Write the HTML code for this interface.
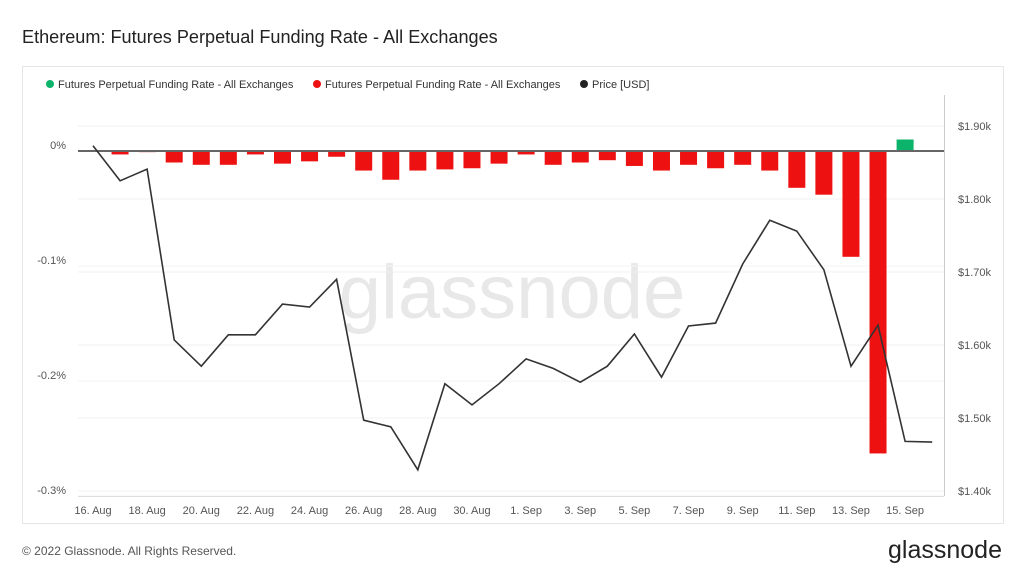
<!DOCTYPE html>
<html><head><meta charset="utf-8"><style>
body{margin:0;background:#fff;font-family:"Liberation Sans",sans-serif;}
</style></head><body>
<svg width="1024" height="576" xmlns="http://www.w3.org/2000/svg">
<text x="22" y="43" font-size="18.1" fill="#222">Ethereum: Futures Perpetual Funding Rate - All Exchanges</text>
<rect x="22.5" y="66.5" width="981" height="457" fill="none" stroke="#e6e6e6"/>
<g font-size="11" fill="#333">
<circle cx="50" cy="84" r="4" fill="#0bb36b"/>
<text x="58" y="88">Futures Perpetual Funding Rate - All Exchanges</text>
<circle cx="317" cy="84" r="4" fill="#ee1111"/>
<text x="325" y="88">Futures Perpetual Funding Rate - All Exchanges</text>
<circle cx="584" cy="84" r="4" fill="#222"/>
<text x="592" y="88">Price [USD]</text>
</g>
<text x="512" y="318" font-size="76" fill="#e8e8e8" text-anchor="middle">glassnode</text>
<g id="grid"></g>
<g id="bars"></g>
<line x1="78" x2="944" y1="151" y2="151" stroke="#666" stroke-width="2"/>
<path id="price" fill="none" stroke="#333" stroke-width="1.6"/>
<line x1="944.5" x2="944.5" y1="95" y2="496" stroke="#ccc"/>
<line x1="78" x2="944" y1="496.5" y2="496.5" stroke="#ddd"/>
<g id="axes" font-size="11" fill="#555"></g>
<text x="22" y="555" font-size="12" fill="#555">© 2022 Glassnode. All Rights Reserved.</text>
<text x="1002" y="558" font-size="25" fill="#222" text-anchor="end">glassnode</text>
</svg>
<script>
const dates=["16. Aug","18. Aug","20. Aug","22. Aug","24. Aug","26. Aug","28. Aug","30. Aug","1. Sep","3. Sep","5. Sep","7. Sep","9. Sep","11. Sep","13. Sep","15. Sep"];
const fundingRates=[0,-0.003,-0.001,-0.010,-0.012,-0.012,-0.003,-0.011,-0.009,-0.005,-0.017,-0.025,-0.017,-0.016,-0.015,-0.011,-0.003,-0.012,-0.010,-0.008,-0.013,-0.017,-0.012,-0.015,-0.012,-0.017,-0.032,-0.038,-0.092,-0.263,0.010];
const prices=[1873,1825,1841,1607,1571,1614,1614,1656,1652,1690,1497,1488,1429,1547,1518,1547,1581,1568,1549,1571,1615,1556,1626,1630,1711,1771,1756,1703,1571,1627,1468,1467];
const leftTicks=[0,-0.1,-0.2,-0.3];
const rightTicks=[1900,1800,1700,1600,1500,1400];
const NS="http://www.w3.org/2000/svg";
const xDay=d=>93+d*27.07;
const yRate=v=>151-v*1150;
const yPrice=p=>126+(1900-p)*0.73;
function mk(tag,attrs,parent){const e=document.createElementNS(NS,tag);for(const k in attrs)e.setAttribute(k,attrs[k]);document.getElementById(parent).appendChild(e);return e;}
rightTicks.forEach(p=>{
  const l=mk('line',{x1:78,x2:944,y1:yPrice(p),y2:yPrice(p),stroke:'#f0f0f0'},'grid');
  
  
  const t=mk('text',{x:958,y:yPrice(p)+4},'axes');t.textContent='$'+(p/1000).toFixed(2)+'k';
  
  
});
leftTicks.forEach(v=>{
  const l=mk('line',{x1:78,x2:944,y1:yRate(v),y2:yRate(v),stroke:'#f3f3f3'},'grid');
  
  
  const t=mk('text',{x:66,y:yRate(v)-2,'text-anchor':'end'},'axes');t.textContent=(v===0?'0':v.toFixed(1))+'%';
  
  
});
dates.forEach((d,i)=>{
  const t=mk('text',{x:xDay(i*2),y:514,'text-anchor':'middle'},'axes');t.textContent=d;
  
  
});
fundingRates.forEach((v,i)=>{
  if(v===0)return;
  const y0=yRate(0),y1=yRate(v);
  const r=mk('rect',{x:xDay(i)-8.5,y:Math.min(y0,y1),width:17,height:Math.abs(y1-y0),fill:v>0?'#0bb36b':'#ee1111'},'bars');
  
  
});
document.getElementById('price').setAttribute('d',prices.map((p,i)=>(i?'L':'M')+xDay(i).toFixed(1)+','+yPrice(p).toFixed(1)).join(''));
</script>
</body></html>
